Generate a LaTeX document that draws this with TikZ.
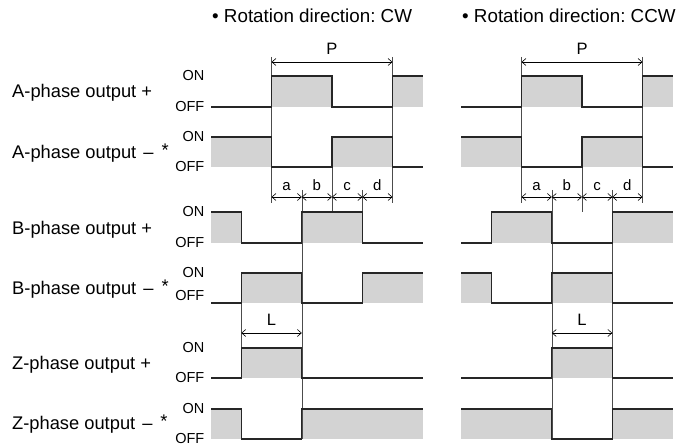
\documentclass[tikz,border=0pt]{standalone}
\usepackage{fontspec}
\setmainfont{Liberation Sans}
\usetikzlibrary{arrows.meta}
\frenchspacing
\definecolor{hifill}{RGB}{211,211,211}
\tikzset{
  wave/.style={line width=1.1pt, black!85},
  hi/.style={fill=hifill},
  guide/.style={line width=0.6pt, black!70},
  dim/.style={line width=0.6pt, {Straight Barb[length=4pt,width=7pt]}-{Straight Barb[length=4pt,width=7pt]}},
  lbl/.style={anchor=base west, inner sep=0pt, font=\fontsize{18.3}{21}\selectfont},
  ttl/.style={anchor=base west, inner sep=0pt, font=\fontsize{18.8}{22}\selectfont},
  lvl/.style={anchor=east, inner sep=0pt, font=\fontsize{14.5}{17}\selectfont},
  dl/.style={anchor=base, inner sep=0pt, font=\fontsize{15}{18}\selectfont},
  dlbig/.style={anchor=base, inner sep=0pt, font=\fontsize{16.5}{19}\selectfont},
}
\begin{document}
\begin{tikzpicture}[x=1pt, y=-1pt]
      \useasboundingbox (0,0) rectangle (689,446);
      % titles
      \node (cw)[ttl] at (212,22.3) {• Rotation direction: CW};
      \node (ccw)[ttl] at (462,22.3) {• Rotation direction: CCW};
      % row labels
      \node (ap)[lbl] at (12,98) {A-phase output +};
      \node (am)[lbl] at (12,159) {A-phase output\hspace{7pt}–\hspace{8pt}\raisebox{2pt}{*}};
      \node (bp)[lbl] at (12,235) {B-phase output +};
      \node (bm)[lbl] at (12,294.5) {B-phase output\hspace{7pt}–\hspace{8pt}\raisebox{2pt}{*}};
      \node (zp)[lbl] at (12,370) {Z-phase output +};
      \node (zm)[lbl] at (12,429.5) {Z-phase output\hspace{7pt}–\hspace{8pt}\raisebox{2pt}{*}};
      \node (apon)[lvl] at (204.5,76) {ON};
      \node (apoff)[lvl] at (204.5,107) {OFF};
      \node (amon)[lvl] at (204.5,137) {ON};
      \node (amoff)[lvl] at (204.5,167) {OFF};
      \node (bpon)[lvl] at (204.5,212) {ON};
      \node (bpoff)[lvl] at (204.5,243) {OFF};
      \node (bmon)[lvl] at (204.5,273) {ON};
      \node (bmoff)[lvl] at (204.5,296) {OFF};
      \node (zpon)[lvl] at (204.5,348) {ON};
      \node (zpoff)[lvl] at (204.5,378) {OFF};
      \node (zmon)[lvl] at (204.5,409) {ON};
      \node (zmoff)[lvl] at (204.5,439) {OFF};
      % high levels
      \fill[hi] (271.5,76) rectangle (332,107) (392.5,76) rectangle (422.8,107);
      \fill[hi] (521.5,76) rectangle (582,107) (642.5,76) rectangle (672.8,107);
      \fill[hi] (211,137) rectangle (271.5,167) (332,137) rectangle (392.5,167);
      \fill[hi] (461,137) rectangle (521.5,167) (582,137) rectangle (642.5,167);
      \fill[hi] (211,212) rectangle (241.3,243) (301.8,212) rectangle (362.3,243);
      \fill[hi] (491.3,212) rectangle (551.8,243) (612.3,212) rectangle (672.8,243);
      \fill[hi] (241.3,273) rectangle (301.8,303) (362.3,273) rectangle (422.8,303);
      \fill[hi] (461,273) rectangle (491.3,303) (551.8,273) rectangle (612.3,303);
      \fill[hi] (241.3,348) rectangle (301.8,378);
      \fill[hi] (551.8,348) rectangle (612.3,378);
      \fill[hi] (211,409) rectangle (241.3,439) (301.8,409) rectangle (422.8,439);
      \fill[hi] (461,409) rectangle (551.8,439) (612.3,409) rectangle (672.8,439);
      % guide lines
      \draw[guide] (271.5,57) -- (271.5,203);
      \draw[guide] (392.5,57) -- (392.5,203);
      \draw[guide] (301.8,190) -- (301.8,439);
      \draw[guide] (332,167) -- (332,212);
      \draw[guide] (362.3,190) -- (362.3,212);
      \draw[guide] (241.3,303) -- (241.3,348);
      \draw[guide] (521.5,57) -- (521.5,203);
      \draw[guide] (642.5,57) -- (642.5,203);
      \draw[guide] (551.8,190) -- (551.8,439);
      \draw[guide] (582,167) -- (582,212);
      \draw[guide] (612.3,190) -- (612.3,439);
      % waveforms, CW
      \draw[wave] (211,107) -| (271.5,76) -| (332,107) -| (392.5,76) -- (422.8,76);
      \draw[wave] (211,137) -| (271.5,167) -| (332,137) -| (392.5,167) -- (422.8,167);
      \draw[wave] (211,212) -| (241.3,243) -| (301.8,212) -| (362.3,243) -- (422.8,243);
      \draw[wave] (211,303) -| (241.3,273) -| (301.8,303) -| (362.3,273) -- (422.8,273);
      \draw[wave] (211,378) -| (241.3,348) -| (301.8,378) -- (422.8,378);
      \draw[wave] (211,409) -| (241.3,439) -| (301.8,409) -- (422.8,409);
      % waveforms, CCW
      \draw[wave] (461,107) -| (521.5,76) -| (582,107) -| (642.5,76) -- (672.8,76);
      \draw[wave] (461,137) -| (521.5,167) -| (582,137) -| (642.5,167) -- (672.8,167);
      \draw[wave] (461,243) -| (491.3,212) -| (551.8,243) -| (612.3,212) -- (672.8,212);
      \draw[wave] (461,273) -| (491.3,303) -| (551.8,273) -| (612.3,303) -- (672.8,303);
      \draw[wave] (461,378) -| (551.8,348) -| (612.3,378) -- (672.8,378);
      \draw[wave] (461,409) -| (551.8,439) -| (612.3,409) -- (672.8,409);
      % dimensions, CW
      \coordinate (cwp1) at (271.5,62);
      \coordinate (cwp2) at (392.5,62);
      \draw[dim] (cwp1) -- (cwp2);
      \node (cwP)[dlbig] at (332,55) {P};
      \coordinate (cwd0) at (271.5,197);
      \coordinate (cwd1) at (301.8,197);
      \coordinate (cwd2) at (332,197);
      \coordinate (cwd3) at (362.3,197);
      \coordinate (cwd4) at (392.5,197);
      \draw[dim] (cwd0) -- (cwd1);
      \draw[dim] (cwd1) -- (cwd2);
      \draw[dim] (cwd2) -- (cwd3);
      \draw[dim] (cwd3) -- (cwd4);
      \node (cwa)[dl] at (286.6,190.5) {a};
      \node (cwb)[dl] at (316.9,190.5) {b};
      \node (cwc)[dl] at (347.1,190.5) {c};
      \node (cwdd)[dl] at (377.4,190.5) {d};
      \coordinate (cwl1) at (241.3,333);
      \coordinate (cwl2) at (301.8,333);
      \draw[dim] (cwl1) -- (cwl2);
      \node (cwL)[dlbig] at (271.5,326) {L};
      % dimensions, CCW
      \coordinate (ccwp1) at (521.5,62);
      \coordinate (ccwp2) at (642.5,62);
      \draw[dim] (ccwp1) -- (ccwp2);
      \node (ccwP)[dlbig] at (582,55) {P};
      \coordinate (ccwd0) at (521.5,197);
      \coordinate (ccwd1) at (551.8,197);
      \coordinate (ccwd2) at (582,197);
      \coordinate (ccwd3) at (612.3,197);
      \coordinate (ccwd4) at (642.5,197);
      \draw[dim] (ccwd0) -- (ccwd1);
      \draw[dim] (ccwd1) -- (ccwd2);
      \draw[dim] (ccwd2) -- (ccwd3);
      \draw[dim] (ccwd3) -- (ccwd4);
      \node (ccwa)[dl] at (536.6,190.5) {a};
      \node (ccwb)[dl] at (566.9,190.5) {b};
      \node (ccwc)[dl] at (597.1,190.5) {c};
      \node (ccwdd)[dl] at (627.4,190.5) {d};
      \coordinate (ccwl1) at (551.8,333);
      \coordinate (ccwl2) at (612.3,333);
      \draw[dim] (ccwl1) -- (ccwl2);
      \node (ccwL)[dlbig] at (582,326) {L};
\end{tikzpicture}
\end{document}
